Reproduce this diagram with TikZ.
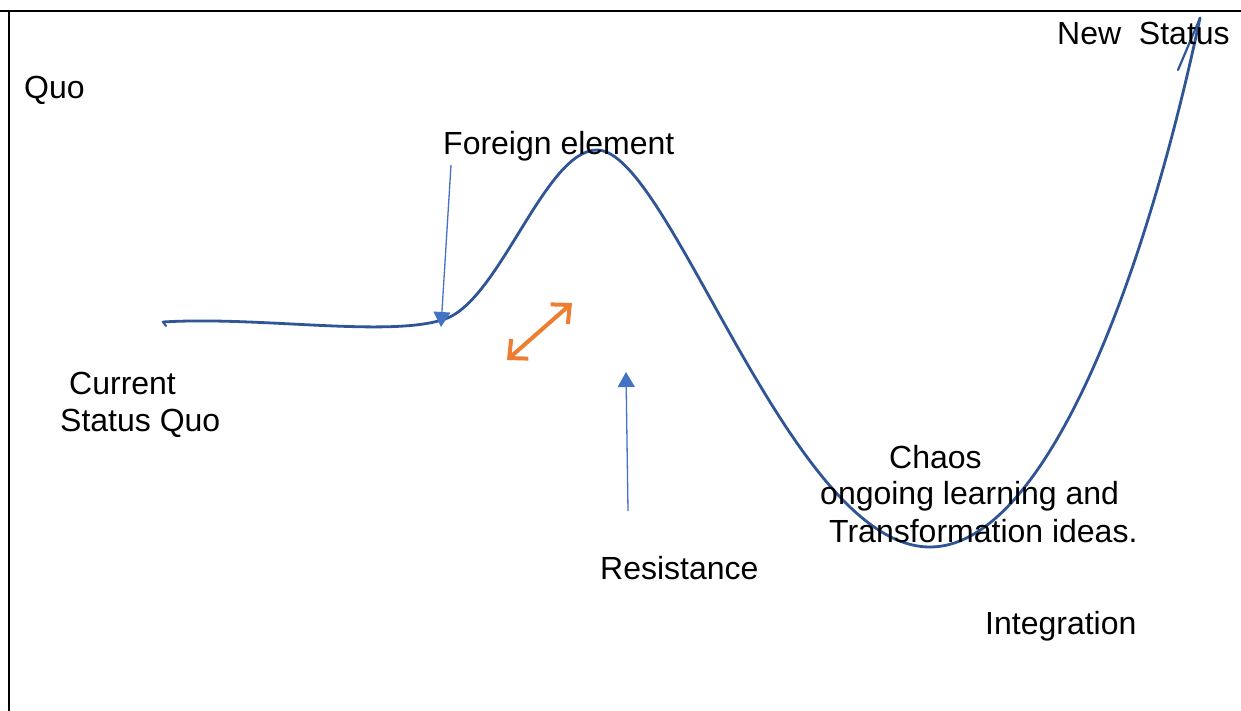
\documentclass[tikz,border=0pt]{standalone}
\usepackage{fontspec}
\setmainfont{Liberation Sans}
\usetikzlibrary{arrows.meta}
\definecolor{curveblue}{HTML}{2F5597}
\definecolor{arrowblue}{HTML}{4472C4}
\definecolor{orng}{HTML}{ED7D31}
\begin{document}
\begin{tikzpicture}[x=1pt,y=-1pt,
  lbl/.style={anchor=base west,inner sep=0pt,font=\fontsize{32}{37}\selectfont},
  curve/.style={draw=curveblue,line width=2.8pt,line cap=round,line join=round},
  thinarrow/.style={draw=arrowblue,line width=1.3pt,-{Triangle[width=17pt,length=15pt]},color=arrowblue},
  orangearrow/.style={draw=orng,line width=4pt,{Straight Barb[length=14pt,width=26pt,line width=4pt]}-{Straight Barb[length=14pt,width=26pt,line width=4pt]}}
]
\useasboundingbox (0,0) rectangle (1241,711);
\fill[white] (0,0) rectangle (1241,711);
% frame
\draw[line width=2.5pt] (0,11) -- (1241,11);
\draw[line width=2.5pt] (9,11) -- (9,711);
% main curve
\coordinate (c0) at (163,322);
\coordinate (c1) at (445,319);
\coordinate (c2) at (597,150);
\coordinate (c3) at (930,547);
\coordinate (c4) at (1200,18);
\coordinate (c5) at (1178,70);
\draw[curve] (c0) .. controls (260,316) and (390,338) .. (c1)
  .. controls (500,300) and (545,150) .. (c2)
  .. controls (670,150) and (790,547) .. (c3)
  .. controls (1040,547) and (1140,300) .. (c4);
\draw[curve,line width=2.2pt] (c4) -- (c5);
\draw[curve,line width=2pt] (c0) -- (166,326);
% labels
\node[lbl] (quo) at (24,99) {Quo};
\node[lbl] (newstatus) at (1057,45) {New\ \ Status};
\node[lbl] (foreign) at (443,155) {Foreign element};
\node[lbl] (current) at (69,394) {Current};
\node[lbl] (statusquo) at (60,431) {Status Quo};
\node[lbl] (chaos) at (889,468) {Chaos};
\node[lbl] (ongoing) at (820,504) {ongoing learning and};
\node[lbl] (transf) at (829,542) {Transformation ideas.};
\node[lbl] (resist) at (600,579) {Resistance};
\node[lbl] (integ) at (985,634) {Integration};
% arrows
\coordinate (fa) at (451,165);
\coordinate (fb) at (441,327);
\draw[thinarrow] (fa) -- (fb);
\coordinate (ra) at (628,511);
\coordinate (rb) at (626,372);
\draw[thinarrow] (ra) -- (rb);
\coordinate (oa) at (507,360);
\coordinate (ob) at (572,303);
\draw[orangearrow] (oa) -- (ob);
\end{tikzpicture}
\end{document}
